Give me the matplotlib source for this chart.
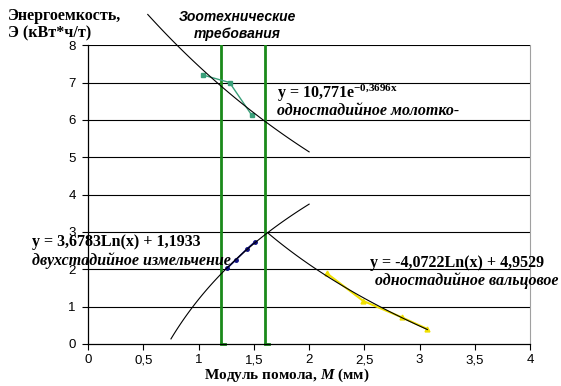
import numpy as np
import matplotlib; matplotlib.use("Agg")
import matplotlib.pyplot as plt

# measured points
hammer_x = [1.04, 1.28, 1.48]
hammer_y = [7.2, 7.0, 6.13]
twostage_x = [1.255, 1.34, 1.44, 1.51]
twostage_y = [2.02, 2.26, 2.55, 2.73]
roller_x = [2.16, 2.49, 2.84, 3.07]
roller_y = [1.89, 1.15, 0.71, 0.40]
zoo_limits = [1.2, 1.6]

# trend line ranges (x)
hammer_rng = (0.54, 2.0)
twostage_rng = (0.75, 2.0)
roller_rng = (1.63, 3.07)

xticks = [0, 0.5, 1, 1.5, 2, 2.5, 3, 3.5, 4]
xticklabels = ['0', '0,5', '1', '1,5', '2', '2,5', '3', '3,5', '4']
yticks = [0, 1, 2, 3, 4, 5, 6, 7, 8]

serif = 'Liberation Serif'
sans = 'Liberation Sans'

plt.rcParams['mathtext.fontset'] = 'custom'
plt.rcParams['mathtext.it'] = 'Liberation Serif:italic:bold'
plt.rcParams['mathtext.bf'] = 'Liberation Serif:italic:bold'
plt.rcParams['mathtext.rm'] = 'Liberation Serif:bold'

fig = plt.figure(figsize=(5.61, 3.86), dpi=100)
ax = fig.add_axes([0.157, 0.109, 0.788, 0.774])
ax.set_xlim(0, 4)
ax.set_ylim(0, 8)

for y in yticks[1:]:
    ax.axhline(y, color='black', lw=0.8, zorder=1)

for x in zoo_limits:
    ax.plot([x, x], [0, 8], color='#1a8a1a', lw=2, zorder=2)
    ax.plot([x, x + 0.04], [0, 0], color='#1a8a1a', lw=2, zorder=2, clip_on=False)

ax.plot(hammer_x, hammer_y, color='#3aa07a', lw=1, marker='s', ms=3, zorder=3)
ax.plot(twostage_x, twostage_y, color='#101080', lw=1.2, marker='o', ms=2.5, zorder=3)
ax.plot(roller_x, roller_y, color='#f0e000', lw=1.5, marker='^', ms=3.5, zorder=3)

xs = np.linspace(*hammer_rng, 100)
ax.plot(xs, 10.771 * np.exp(-0.3696 * xs), color='black', lw=0.8, zorder=4, clip_on=False)
xs = np.linspace(*twostage_rng, 100)
ax.plot(xs, 3.6783 * np.log(xs) + 1.1933, color='black', lw=0.8, zorder=4)
xs = np.linspace(*roller_rng, 100)
ax.plot(xs, -4.0722 * np.log(xs) + 4.9529, color='black', lw=0.8, zorder=4)

ax.set_xticks(xticks)
ax.set_xticklabels(xticklabels, fontfamily=sans, fontsize=9.5)
ax.set_yticks(yticks)
ax.set_yticklabels([str(v) for v in yticks], fontfamily=sans, fontsize=9.5)
ax.tick_params(direction='out', length=4, width=0.8, color='black', pad=5)
ax.tick_params(axis='x', pad=3.5)
for s in ['left', 'bottom']:
    ax.spines[s].set_color('black')
    ax.spines[s].set_linewidth(0.9)
ax.spines['top'].set_visible(False)
ax.spines['right'].set_color('#a0a0a0')

ax.set_xlabel('Модуль помола, $\\mathbf{M}$ (мм)', fontfamily=serif, fontweight='bold',
              fontsize=11, labelpad=0, x=0.45)

fig.text(0.014, 0.978, 'Энергоемкость,\nЭ (кВт*ч/т)', fontfamily=serif, fontweight='bold',
         fontsize=11.5, va='top', ha='left', linespacing=1.1)
fig.text(0.423, 0.975, 'Зоотехнические\nтребования', fontfamily=sans, fontweight='bold',
         fontstyle='italic', fontsize=10, va='top', ha='center', linespacing=1.3)

def lbl(x, y, eq, x2, y2, name):
    ax.text(x, y, eq, fontfamily=serif, fontweight='bold', fontsize=11.5, ha='left', va='baseline', zorder=5)
    ax.text(x2, y2, name, fontfamily=serif, fontweight='bold', fontstyle='italic', fontsize=11.5,
            ha='left', va='baseline', zorder=5)

lbl(1.71, 6.58, 'y = 10,771e$^{\\mathrm{-0{,}3696x}}$', 1.71, 6.12, 'одностадийное молотко-')
lbl(-0.51, 2.62, 'y = 3,6783Ln(x) + 1,1933', -0.51, 2.11, 'двухстадийное измельчение')
lbl(2.55, 2.07, 'y = -4,0722Ln(x) + 4,9529', 2.6, 1.58, 'одностадийное вальцовое')

fig.savefig('out.png', dpi=100)
